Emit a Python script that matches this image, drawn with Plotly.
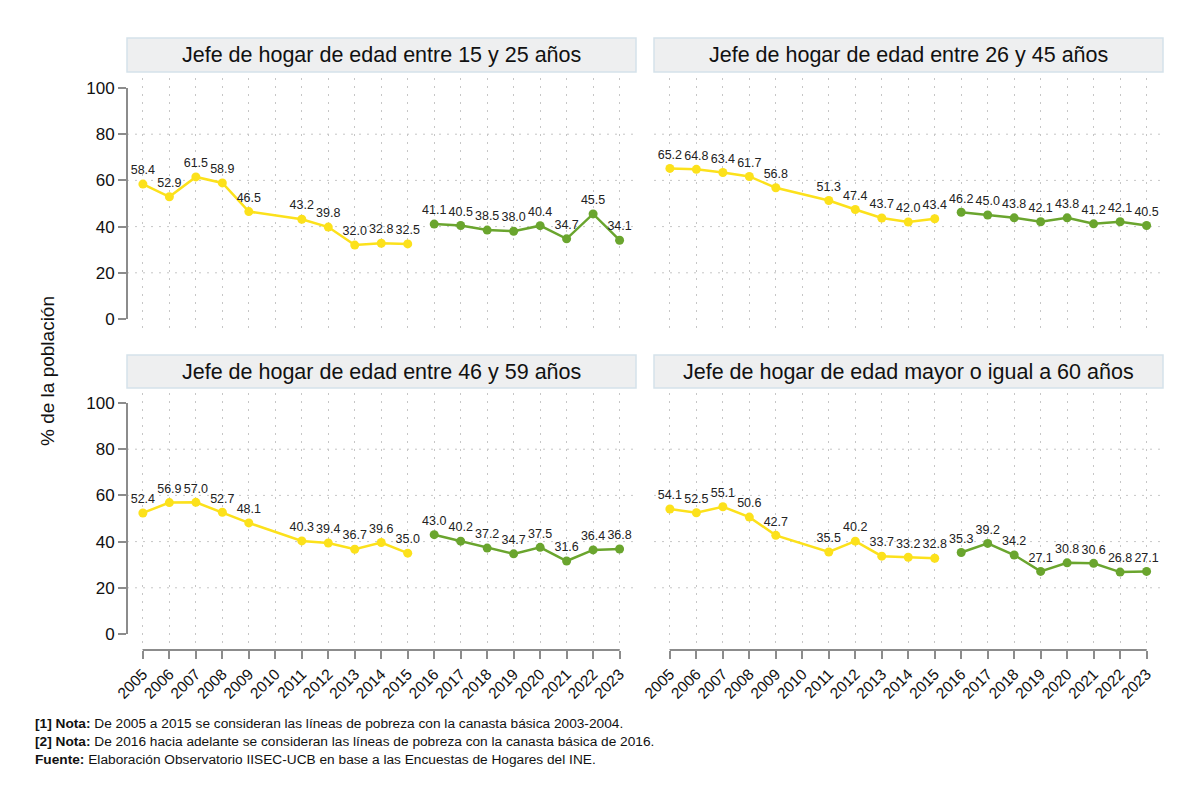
import plotly.graph_objects as go

# datos: % de la población en situación de pobreza según edad del jefe de hogar
years_a = [2005, 2006, 2007, 2008, 2009, 2011, 2012, 2013, 2014, 2015]
years_b = [2016, 2017, 2018, 2019, 2020, 2021, 2022, 2023]
all_years = list(range(2005, 2024))

edad_15_25_a = [58.4, 52.9, 61.5, 58.9, 46.5, 43.2, 39.8, 32.0, 32.8, 32.5]
edad_15_25_b = [41.1, 40.5, 38.5, 38.0, 40.4, 34.7, 45.5, 34.1]
edad_26_45_a = [65.2, 64.8, 63.4, 61.7, 56.8, 51.3, 47.4, 43.7, 42.0, 43.4]
edad_26_45_b = [46.2, 45.0, 43.8, 42.1, 43.8, 41.2, 42.1, 40.5]
edad_46_59_a = [52.4, 56.9, 57.0, 52.7, 48.1, 40.3, 39.4, 36.7, 39.6, 35.0]
edad_46_59_b = [43.0, 40.2, 37.2, 34.7, 37.5, 31.6, 36.4, 36.8]
edad_60_a = [54.1, 52.5, 55.1, 50.6, 42.7, 35.5, 40.2, 33.7, 33.2, 32.8]
edad_60_b = [35.3, 39.2, 34.2, 27.1, 30.8, 30.6, 26.8, 27.1]

titulos = [
    "Jefe de hogar de edad entre 15 y 25 años",
    "Jefe de hogar de edad entre 26 y 45 años",
    "Jefe de hogar de edad entre 46 y 59 años",
    "Jefe de hogar de edad mayor o igual a 60 años",
]
series = [
    (edad_15_25_a, edad_15_25_b),
    (edad_26_45_a, edad_26_45_b),
    (edad_46_59_a, edad_46_59_b),
    (edad_60_a, edad_60_b),
]
y_ticks = [0, 20, 40, 60, 80, 100]

W, H = 1200, 801
OFF = 8  # margen del body de la página
AMARILLO = "#FCE11B"
VERDE = "#6AA52E"
GRIS = "#8c8c8c"
GRID = "#c6c6c6"
FUENTE = "Liberation Sans, Arial, sans-serif"


def fx(p):
    return (p - OFF) / W


def fy(p):
    return 1 - (p - OFF) / H


# (x px, y px plot, y range, header y px)
cols = [(127, 636), (654, 1163)]
rows = [((78, 333), [-6.06, 104.33], (38, 72)),
        ((393, 650), [-6.93, 104.33], (355, 388))]

fig = go.Figure()
shapes = []
annotations = []

for i in range(4):
    r, c = divmod(i, 2)
    n = "" if i == 0 else str(i + 1)
    xa, ya = "x" + n, "y" + n
    (py0, py1), yrange, (hy0, hy1) = rows[r]
    px0, px1 = cols[c]
    a, b = series[i]

    for xs, ys, col in [(years_a, a, AMARILLO), (years_b, b, VERDE)]:
        fig.add_trace(go.Scatter(
            x=xs, y=ys, mode="lines+markers+text",
            line=dict(color=col, width=2.5),
            marker=dict(color=col, size=9),
            text=[f"{v:.1f}" for v in ys], textposition="top center",
            textfont=dict(family=FUENTE, size=12.5, color="#222"),
            cliponaxis=False, showlegend=False, hoverinfo="skip",
            xaxis=xa, yaxis=ya,
        ))

    bottom = r == 1
    fig.update_layout(**{
        ("xaxis" + n): dict(
            domain=[fx(px0), fx(px1)], anchor=ya, range=[2004.4, 2023.62],
            automargin=False,
            tickvals=all_years, ticktext=[str(y) for y in all_years],
            showticklabels=bottom, ticks="outside" if bottom else "",
            ticklen=8, tickwidth=2, tickcolor=GRIS, tickangle=-45,
            tickfont=dict(family=FUENTE, size=15.5, color="#111"),
            showgrid=True, gridcolor=GRID, griddash="2px,6px", gridwidth=1,
            showline=False, zeroline=False,
        ),
        ("yaxis" + n): dict(
            domain=[fy(py1), fy(py0)], anchor=xa, range=yrange,
            automargin=False,
            tickvals=y_ticks, showticklabels=(c == 0),
            ticks="outside" if c == 0 else "", ticklen=8, tickwidth=2, tickcolor=GRIS,
            tickfont=dict(family=FUENTE, size=17, color="#111"),
            showgrid=False, showline=False, zeroline=False,
        ),
    })

    # líneas horizontales punteadas
    for v in y_ticks[1:-1]:
        shapes.append(dict(type="line", xref=xa + " domain", yref=ya,
                           x0=0, x1=1, y0=v, y1=v,
                           line=dict(color=GRID, width=1, dash="2px,6px"), layer="below"))
    # eje y de 0 a 100
    if c == 0:
        shapes.append(dict(type="line", xref=xa + " domain", yref=ya,
                           x0=0, x1=0, y0=0, y1=100, line=dict(color=GRIS, width=2)))
    # eje x de 2005 a 2023
    if bottom:
        shapes.append(dict(type="line", xref=xa, yref=ya + " domain",
                           x0=2005, x1=2023, y0=0, y1=0, line=dict(color=GRIS, width=2)))

    # cabecera del panel
    shapes.append(dict(type="rect", xref="paper", yref="paper",
                       x0=fx(px0), x1=fx(px1), y0=fy(hy1), y1=fy(hy0),
                       fillcolor="#EEEFF0", line=dict(color="#D5E2EA", width=1.5)))
    annotations.append(dict(text=titulos[i], xref="paper", yref="paper",
                            x=fx((px0 + px1) / 2), y=fy((hy0 + hy1) / 2),
                            showarrow=False, xanchor="center", yanchor="middle",
                            font=dict(family=FUENTE, size=21.5, color="#111")))

annotations.append(dict(text="% de la población", xref="paper", yref="paper",
                        x=fx(47), y=fy(371), textangle=-90, showarrow=False,
                        xanchor="center", yanchor="middle",
                        font=dict(family=FUENTE, size=19, color="#111")))

notas = [
    "<b>[1] Nota:</b> De 2005 a 2015 se consideran las líneas de pobreza con la canasta básica 2003-2004.",
    "<b>[2] Nota:</b> De 2016 hacia adelante se consideran las líneas de pobreza con la canasta básica de 2016.",
    "<b>Fuente:</b> Elaboración Observatorio IISEC-UCB en base a las Encuestas de Hogares del INE.",
]
for k, t in enumerate(notas):
    annotations.append(dict(text=t, xref="paper", yref="paper",
                            x=fx(33), y=fy(723 + 18 * k), showarrow=False,
                            xanchor="left", yanchor="middle",
                            font=dict(family=FUENTE, size=13.7, color="#111")))

fig.update_layout(
    width=W, height=H,
    margin=dict(l=0, r=0, t=0, b=0),
    paper_bgcolor="white", plot_bgcolor="white",
    shapes=shapes, annotations=annotations,
)

fig.write_html("out.html")
